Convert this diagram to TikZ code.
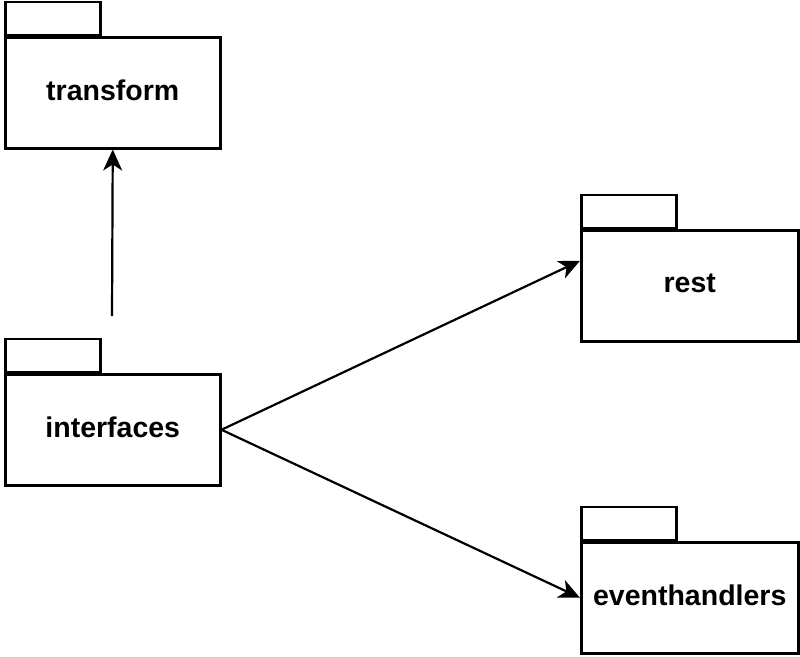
\documentclass[tikz,border=0pt]{standalone}
\usepackage{fontspec}
\setmainfont{Liberation Sans}
\usetikzlibrary{positioning}
\usetikzlibrary{arrows.meta}

\tikzset{
  pkg/.style={draw, line width=2.5pt, minimum width=215pt, minimum height=111pt,
    anchor=north west, inner sep=0pt, text depth=6pt,
    font=\fontsize{28.5}{32}\selectfont\bfseries},
  pkgtab/.style={draw, line width=2.5pt, minimum width=95pt, minimum height=33pt,
    anchor=south west, inner sep=0pt},
  dep/.style={line width=2.2pt, -{Stealth[length=21pt, width=19pt, inset=6pt]}}
}

\begin{document}
\begin{tikzpicture}[x=1pt, y=-1pt]
  \useasboundingbox (0,0) rectangle (800,656);

  % packages
  \node [pkg] (transform) at (4,36) {transform};
  \node [pkgtab] (transform tab) at (transform.north west) {};

  \node [pkg] (interfaces) at (4,373) {interfaces};
  \node [pkgtab] (interfaces tab) at (interfaces.north west) {};

  \node [pkg, minimum width=217pt] (rest) at (580,229) {rest};
  \node [pkgtab] (rest tab) at (rest.north west) {};

  \node [pkg, minimum width=217pt] (eventhandlers) at (580,541) {eventhandlers};
  \node [pkgtab] (eventhandlers tab) at (eventhandlers.north west) {};

  % dependencies
  \coordinate (interfaces up) at (112,316);
  \draw [dep] (interfaces up) -- (transform.south);
  \draw [dep] (interfaces.east) -- ([yshift=25pt]rest.west);
  \draw [dep] (interfaces.east) -- (eventhandlers.west);
\end{tikzpicture}
\end{document}
